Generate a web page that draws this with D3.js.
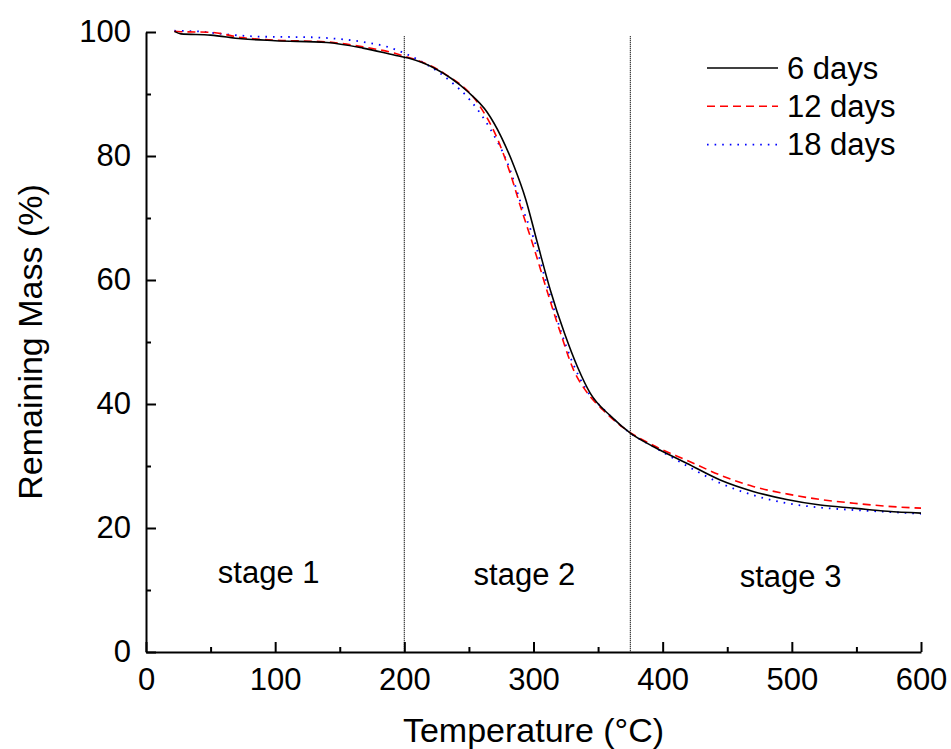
<!DOCTYPE html>
<html>
<head>
<meta charset="utf-8">
<script src="https://cdn.jsdelivr.net/npm/d3@7"></script>
<style>
  body { margin: 0; background: #fff; }
  svg text { font-family: "Liberation Sans", Arial, sans-serif; fill: #000; }
</style>
</head>
<body>
<svg id="chart" width="951" height="749"></svg>
<script>
const temps6 = [22, 27, 50, 74, 100, 140, 168, 192, 203, 223, 249, 264, 275, 285, 294, 303, 313, 324, 334, 344, 360, 375, 393, 419, 445, 470, 496, 522, 548, 574, 600];
const mass6 = [100.1, 99.7, 99.5, 98.9, 98.6, 98.3, 97.4, 96.3, 95.8, 94.2, 90.4, 87.1, 83.1, 78.3, 73.0, 66.0, 58.4, 51.4, 46.0, 41.7, 38.0, 35.3, 33.1, 30.4, 27.7, 25.9, 24.6, 23.7, 23.2, 22.7, 22.4];

const temps12 = [22, 27, 50, 74, 100, 140, 168, 192, 197, 231, 257, 272, 282, 290, 300, 311, 321, 331, 342, 354, 370, 393, 419, 445, 470, 496, 522, 548, 574, 600];
const mass12 = [100.1, 100.05, 99.95, 99.1, 98.7, 98.4, 97.6, 96.6, 96.3, 93.3, 88.5, 82.8, 77.2, 71.8, 65.4, 57.9, 51.4, 45.5, 41.7, 39.0, 36.1, 33.3, 30.9, 28.5, 26.7, 25.5, 24.6, 24.0, 23.5, 23.2];

const temps18 = [22, 40, 63, 89, 128, 148, 168, 187, 202, 236, 251, 267, 280, 292, 300, 310, 320, 330, 340, 355, 375, 393, 419, 445, 470, 496, 522, 548, 574, 600];
const mass18 = [100.2, 100.1, 99.6, 99.25, 99.15, 98.9, 98.4, 97.6, 96.4, 92.0, 89.0, 84.2, 78.8, 71.3, 66.8, 59.5, 52.5, 46.8, 42.6, 39.0, 35.3, 33.1, 30.0, 27.2, 25.3, 24.0, 23.3, 22.9, 22.6, 22.3];

const seriesNames = ["6 days", "12 days", "18 days"];
const xTicks = [0, 100, 200, 300, 400, 500, 600];
const yTicks = [0, 20, 40, 60, 80, 100];
const stageBounds = [200, 375];
const stageLabels = ["stage 1", "stage 2", "stage 3"];
const stageX = [95, 293, 499];
const stageY = [12.9, 12.6, 12.3];

const W = 951, H = 749;
const MARGIN = { top: 32, right: 30, bottom: 97, left: 146 };

const svg = d3.select("#chart");
const g = svg.append("g").attr("transform", `translate(${MARGIN.left},${MARGIN.top})`);
const width = W - MARGIN.left - MARGIN.right;
const height = H - MARGIN.top - MARGIN.bottom;

const xscale = d3.scaleLinear().domain([0, 600]).range([0, width]);
const yscale = d3.scaleLinear().domain([0, 100]).range([height, 0]);

// stage dividers
g.selectAll(".divider")
    .data(stageBounds)
    .enter().append("line")
    .attr("x1", d => xscale(d)).attr("x2", d => xscale(d))
    .attr("y1", yscale(99.3)).attr("y2", yscale(0))
    .attr("stroke", "#000")
    .attr("stroke-width", 1.2)
    .attr("stroke-dasharray", "1,1");

// minor ticks
g.append("g")
    .attr("transform", `translate(0,${height})`)
    .call(d3.axisBottom(xscale).tickValues(d3.range(50, 600, 100)).tickSize(-5).tickFormat(""))
    .call(a => a.select(".domain").remove())
    .call(a => a.selectAll("line").attr("stroke-width", 2));
g.append("g")
    .call(d3.axisLeft(yscale).tickValues(d3.range(10, 100, 20)).tickSize(-5).tickFormat(""))
    .call(a => a.select(".domain").remove())
    .call(a => a.selectAll("line").attr("stroke-width", 2));

const xaxis = g.append("g")
    .attr("transform", `translate(0,${height})`)
    .call(d3.axisBottom(xscale).tickValues(xTicks).tickSizeInner(-10).tickSizeOuter(0).tickPadding(16));
const yaxis = g.append("g")
    .call(d3.axisLeft(yscale).tickValues(yTicks).tickSizeInner(-10).tickSizeOuter(0).tickPadding(15));

[xaxis, yaxis].forEach(a => {
    a.select(".domain").attr("stroke-width", 2);
    a.selectAll(".tick line").attr("stroke-width", 2);
    a.selectAll("text").style("font-size", "31px").attr("fill", "#000");
});

// curves
const line = d3.line()
    .x(d => xscale(d[0]))
    .y(d => yscale(d[1]))
    .curve(d3.curveMonotoneX);

const series = [
    { name: seriesNames[0], data: d3.zip(temps6, mass6), color: "#000", dash: null, w: 1.6 },
    { name: seriesNames[1], data: d3.zip(temps12, mass12), color: "#ff0000", dash: "8,5", w: 1.6 },
    { name: seriesNames[2], data: d3.zip(temps18, mass18), color: "#0000ff", dash: "1.6,6", w: 1.8 }
];

// black on top, as in the original
[series[2], series[1], series[0]].forEach(s => {
    g.append("path")
        .datum(s.data)
        .attr("fill", "none")
        .attr("stroke", s.color)
        .attr("stroke-width", s.w)
        .attr("stroke-dasharray", s.dash)
        .attr("d", line);
});

// stage labels
g.selectAll(".stage")
    .data(stageLabels)
    .enter().append("text")
    .attr("x", (d, i) => xscale(stageX[i]))
    .attr("y", (d, i) => yscale(stageY[i]))
    .attr("dy", "0.35em")
    .attr("text-anchor", "middle")
    .style("font-size", "31px")
    .text(d => d);

// legend
const legend = g.append("g").attr("transform", `translate(${707 - MARGIN.left},${68 - MARGIN.top})`);
series.forEach((s, i) => {
    const row = legend.append("g").attr("transform", `translate(0,${i * 38.3})`);
    row.append("line")
        .attr("x1", 0).attr("x2", 71)
        .attr("stroke", s.color)
        .attr("stroke-width", s.w)
        .attr("stroke-dasharray", s.dash);
    row.append("text")
        .attr("x", 80)
        .attr("dy", "0.35em")
        .style("font-size", "31px")
        .text(s.name);
});

// axis titles
svg.append("text")
    .attr("x", MARGIN.left + width / 2)
    .attr("y", 742)
    .attr("text-anchor", "middle")
    .style("font-size", "34px")
    .text("Temperature (°C)");

svg.append("text")
    .attr("transform", `translate(42,342) rotate(-90)`)
    .attr("text-anchor", "middle")
    .style("font-size", "34px")
    .text("Remaining Mass (%)");
</script>
</body>
</html>
